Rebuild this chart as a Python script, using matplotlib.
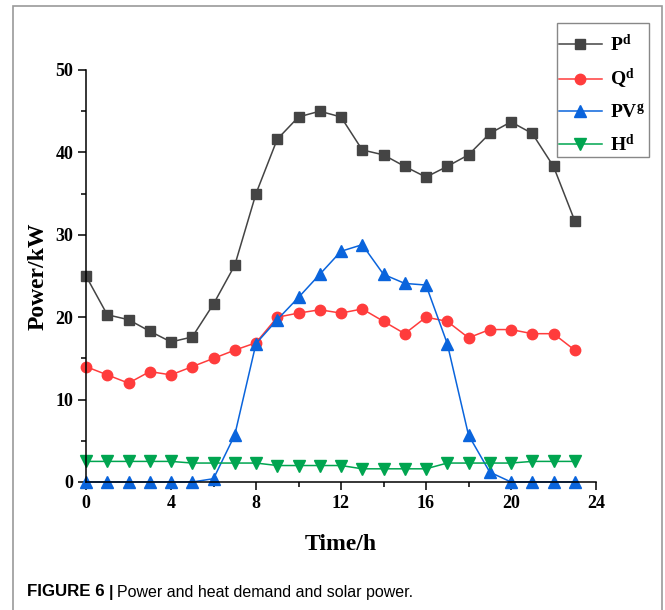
import matplotlib.pyplot as plt
from matplotlib.patches import Rectangle

plt.rcParams['font.family'] = 'Liberation Serif'
plt.rcParams['font.weight'] = 'bold'
plt.rcParams['mathtext.fontset'] = 'custom'
plt.rcParams['mathtext.rm'] = 'Liberation Serif:bold'
plt.rcParams['mathtext.bf'] = 'Liberation Serif:bold'

hours = list(range(24))
p_d = [25.0, 20.3, 19.7, 18.3, 17.0, 17.6, 21.6, 26.3, 35.0, 41.6, 44.3, 45.0,
       44.3, 40.3, 39.7, 38.3, 37.0, 38.3, 39.7, 42.3, 43.7, 42.3, 38.3, 31.7]
q_d = [14.0, 13.0, 12.0, 13.4, 13.0, 14.0, 15.0, 16.0, 16.9, 20.0, 20.5, 20.9,
       20.5, 21.0, 19.5, 18.0, 20.0, 19.5, 17.5, 18.5, 18.5, 18.0, 18.0, 16.0]
pv_g = [0, 0, 0, 0, 0, 0, 0.4, 5.7, 16.8, 19.7, 22.4, 25.2,
        28.0, 28.8, 25.2, 24.1, 23.9, 16.8, 5.7, 1.2, 0, 0, 0, 0]
h_d = [2.5, 2.5, 2.5, 2.5, 2.5, 2.3, 2.3, 2.3, 2.3, 2.0, 2.0, 2.0,
       2.0, 1.6, 1.6, 1.6, 1.6, 2.3, 2.3, 2.3, 2.3, 2.5, 2.5, 2.5]

W, H = 665, 610
fig = plt.figure(figsize=(W / 100, H / 100), dpi=100)
# outer frame around figure + caption
fig.add_artist(Rectangle((13 / W, -0.05), 649 / W, 1 - 6 / H + 0.05,
                         transform=fig.transFigure, fill=False,
                         edgecolor='#9a9a9a', linewidth=1.2))

ax = fig.add_axes([86 / W, 1 - 482 / H, 510 / W, 412 / H])

ax.plot(hours, p_d, color='#444444', marker='s', markersize=6.5, lw=1.1, label=r'$\mathrm{P^d}$')
ax.plot(hours, q_d, color='#ff3c3c', marker='o', markersize=7.5, lw=1.1, label=r'$\mathrm{Q^d}$')
ax.plot(hours, pv_g, color='#0a64dc', marker='^', markersize=8, lw=1.1, label=r'$\mathrm{PV^g}$')
ax.plot(hours, h_d, color='#00a550', marker='v', markersize=8, lw=1.1, label=r'$\mathrm{H^d}$')

ax.set_xlim(0, 24)
ax.set_ylim(0, 50)
ax.set_xticks(range(0, 25, 4))
ax.set_xticks(range(0, 25, 2), minor=True)
ax.set_yticks(range(0, 51, 10))
ax.set_yticks(range(0, 51, 5), minor=True)
ax.tick_params(which='major', length=6, width=1.1, labelsize=13, pad=3)
ax.tick_params(which='minor', length=3.5, width=1.1)
for s in ['top', 'right']:
    ax.spines[s].set_visible(False)
for s in ['left', 'bottom']:
    ax.spines[s].set_linewidth(1.1)
for line in ax.lines:
    line.set_clip_on(False)

ax.set_xlabel('Time/h', fontsize=17, fontweight='bold', labelpad=16)
ax.set_ylabel('Power/kW', fontsize=17, fontweight='bold', labelpad=5)

# legend entries without frame, box drawn separately (tight left/right, roomy top/bottom)
leg = ax.legend(loc='upper left', bbox_to_anchor=(557 / W, 1 - 32 / H),
                bbox_transform=fig.transFigure, fontsize=14, frameon=False,
                handlelength=2.2, labelspacing=0.62, borderpad=0.1,
                handletextpad=0.4, borderaxespad=0)
fig.add_artist(Rectangle((557 / W, 1 - 157 / H), 92 / W, 134 / H,
                         transform=fig.transFigure, fill=False,
                         edgecolor='#888888', linewidth=1.0))

cap_y = 1 - 592 / H
fig.text(27 / W, cap_y, 'FIGURE 6', family='Liberation Sans',
         fontweight='bold', fontsize=12.2, va='center')
fig.text(109 / W, cap_y, '|', family='Liberation Sans',
         fontweight='bold', fontsize=11.5, va='center')
fig.text(117 / W, cap_y, 'Power and heat demand and solar power.',
         family='Liberation Sans', fontweight='normal', fontsize=11.5, va='center')

fig.savefig('out.png', dpi=100)
